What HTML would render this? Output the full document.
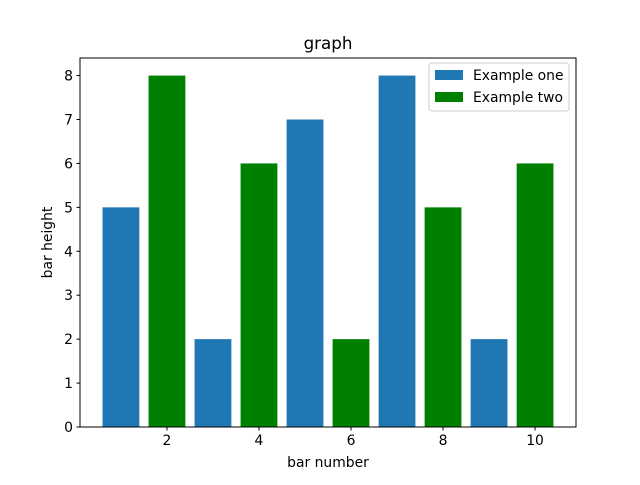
<!DOCTYPE html>
<html><head><meta charset="utf-8"><style>
body{margin:0;background:#fff;}
svg text{font-family:"DejaVu Sans","Liberation Sans",sans-serif;fill:#000;}
</style></head><body>
<svg id="chart" width="640" height="480" xmlns="http://www.w3.org/2000/svg">
<rect width="640" height="480" fill="#fff"/>
<g id="bars"></g>
<g id="axes"></g>
</svg>
<script>
const seriesOneX = [1,3,5,7,9];
const seriesOneY = [5,2,7,8,2];
const seriesTwoX = [2,4,6,8,10];
const seriesTwoY = [8,6,2,5,6];
const xTicks = [2,4,6,8,10];
const yTicks = [0,1,2,3,4,5,6,7,8];
const legendLabels = ["Example one","Example two"];

const L=80,R=576,T=58,B=427;
const xMin=0.11,xMax=10.89,yMin=0,yMax=8.4;
const sx=v=>L+(v-xMin)/(xMax-xMin)*(R-L);
const sy=v=>B-(v-yMin)/(yMax-yMin)*(B-T);
const NS="http://www.w3.org/2000/svg";
function mk(tag,attrs,parent){const e=document.createElementNS(NS,tag);for(const k in attrs)e.setAttribute(k,attrs[k]);parent.appendChild(e);return e;}
const bars=document.getElementById('bars'),axes=document.getElementById('axes'),svg=document.getElementById('chart');

function drawSeries(xs,ys,color,name){
  xs.forEach((x,i)=>{
    const r=mk('rect',{x:sx(x-0.4),y:sy(ys[i]),width:sx(x+0.4)-sx(x-0.4),height:sy(0)-sy(ys[i]),fill:color},bars);
    
    
  });
}
drawSeries(seriesOneX,seriesOneY,'#1f77b4','example-one');
drawSeries(seriesTwoX,seriesTwoY,'#008000','example-two');

const frame=mk('rect',{x:L,y:T,width:R-L,height:B-T,fill:'none',stroke:'#000','stroke-width':1},axes);



xTicks.forEach(t=>{
  const x=sx(t);
  mk('line',{x1:x,x2:x,y1:B,y2:B+3.5,stroke:'#000'},axes);
  const tx=mk('text',{x:x,y:B+18,'text-anchor':'middle','font-size':'13.9'},axes);
  tx.textContent=t;
  
  
});
yTicks.forEach(t=>{
  const y=sy(t);
  mk('line',{x1:L-3.5,x2:L,y1:y,y2:y,stroke:'#000'},axes);
  const tx=mk('text',{x:L-7,y:y+5,'text-anchor':'end','font-size':'13.9'},axes);
  tx.textContent=t;
  
  
});

const title=mk('text',{x:(L+R)/2,y:T-9,'text-anchor':'middle','font-size':'16.7'},svg);
title.textContent='graph';


const xl=mk('text',{x:(L+R)/2,y:467,'text-anchor':'middle','font-size':'13.9'},svg);
xl.textContent='bar number';


const yl=mk('text',{x:0,y:0,'text-anchor':'middle','font-size':'13.9',transform:`translate(52,${(T+B)/2}) rotate(-90)`},svg);
yl.textContent='bar height';



const lg=mk('g',{},svg);


mk('rect',{x:429,y:63,width:140,height:48,rx:3,fill:'#fff','fill-opacity':0.8,stroke:'#ccc'},lg);
const colors=['#1f77b4','#008000'];
legendLabels.forEach((lab,i)=>{
  const y=70+i*22;
  const sw=mk('rect',{x:435,y:y,width:28,height:10,fill:colors[i]},lg);
  
  
  const t=mk('text',{x:473,y:y+10,'font-size':'13.9'},lg);
  t.textContent=lab;
  
  
});
</script>
</body></html>
